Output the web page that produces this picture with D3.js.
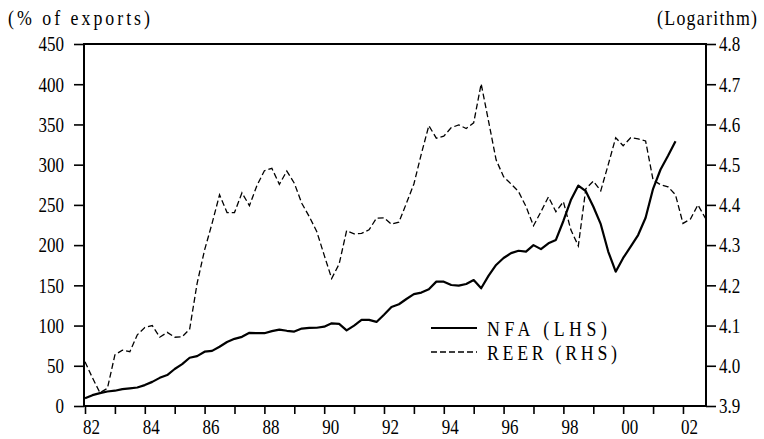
<html>
<head>
  <script src="https://d3js.org/d3.v7.min.js"></script>
  <style>
    body { margin: 0; background: #fff; }
    text { font-family: "Liberation Serif", "Times New Roman", serif; fill: #000; }
    .axis .domain { display: none; }
    .axis line { stroke: #000; stroke-width: 1.6; }
  </style>
</head>
<body>
  <svg width="764" height="439" id="chart"></svg>
  <script>
    // quarterly series, 1982Q1 .. 2002Q4
    const startYear = 1982;
    const nfa = [9.5, 13.5, 16, 18, 19, 21, 22, 23, 26, 30, 35, 38.5,
      46, 52, 60, 62, 67.5, 68.5, 73.7, 79.5, 83.5, 86, 91, 90.5,
      90.5, 93, 95, 93.5, 92.5, 96.3, 97, 97.3, 98.6, 102.8, 102, 94,
      100, 107, 107, 104.5, 113.5, 123, 126.5, 133, 139, 141, 145, 154.6,
      154.6, 150.4, 149.6, 151.7, 156.6, 146.3, 162, 175.3, 184, 190, 193, 192,
      200, 195, 202.3, 206.4, 230, 256, 274, 267, 248, 226, 192, 167,
      184, 198, 212.5, 234, 270, 294, 311, 329, null, null, null, null];
    const reer = [4.010, 3.970, 3.933, 3.944, 4.027, 4.039, 4.035, 4.077, 4.095, 4.100, 4.071, 4.083,
      4.071, 4.072, 4.091, 4.205, 4.288, 4.354, 4.425, 4.381, 4.381, 4.430, 4.398, 4.448,
      4.485, 4.491, 4.451, 4.484, 4.454, 4.404, 4.371, 4.334, 4.275, 4.217, 4.253, 4.336,
      4.328, 4.329, 4.338, 4.367, 4.368, 4.352, 4.357, 4.404, 4.452, 4.527, 4.597, 4.566,
      4.571, 4.592, 4.599, 4.590, 4.604, 4.701, 4.607, 4.512, 4.470, 4.452, 4.433, 4.396,
      4.348, 4.383, 4.420, 4.383, 4.408, 4.338, 4.298, 4.440, 4.459, 4.435, 4.500, 4.567,
      4.547, 4.567, 4.564, 4.559, 4.462, 4.450, 4.445, 4.425, 4.354, 4.365, 4.400, 4.367];
    const xTickYears = [1982, 1983, 1984, 1985, 1986, 1987, 1988, 1989, 1990, 1991, 1992,
      1993, 1994, 1995, 1996, 1997, 1998, 1999, 2000, 2001, 2002];
    const xTickLabels = ["82", "84", "86", "88", "90", "92", "94", "96", "98", "00", "02"];
    const leftTicks = [0, 50, 100, 150, 200, 250, 300, 350, 400, 450];
    const rightTicks = [3.9, 4.0, 4.1, 4.2, 4.3, 4.4, 4.5, 4.6, 4.7, 4.8];
    const seriesNames = ["NFA (LHS)", "REER (RHS)"];

    const svg = d3.select("#chart");
    const frame = { left: 84, right: 706, top: 44, bottom: 406 };
    const sx = 0.85; // the glyphs in the picture are tall and narrow

    const x = d3.scaleLinear().domain([1982, 2002.75]).range([85, 705.4]);
    const yL = d3.scaleLinear().domain([0, 450]).range([frame.bottom, frame.top]);
    const yR = d3.scaleLinear().domain([3.9, 4.8]).range([frame.bottom, frame.top]);
    const t = i => startYear + i / 4;

    // axes
    const leftAxis = svg.append("g").attr("class", "axis")
      .attr("transform", `translate(${frame.left},0)`)
      .call(d3.axisLeft(yL).tickValues(leftTicks).tickSize(10).tickFormat(d3.format("d")));
    leftAxis.selectAll("text")
      .attr("font-size", 20)
      .attr("x", 0).attr("dy", "0.34em")
      .attr("transform", `translate(-20,0) scale(${sx},1)`);

    const rightAxis = svg.append("g").attr("class", "axis")
      .attr("transform", `translate(${frame.right},0)`)
      .call(d3.axisRight(yR).tickValues(rightTicks).tickSize(10).tickFormat(d3.format(".1f")));
    rightAxis.selectAll("text")
      .attr("font-size", 20)
      .attr("x", 0).attr("dy", "0.34em")
      .attr("transform", `translate(13,0) scale(${sx},1)`);

    const bottomAxis = svg.append("g").attr("class", "axis")
      .attr("transform", `translate(0,${frame.bottom})`)
      .call(d3.axisBottom(x).tickValues(xTickYears).tickSize(8)
        .tickFormat(d => d % 2 === 0 ? xTickLabels[(d - 1982) / 2] : ""));
    bottomAxis.selectAll("text")
      .attr("font-size", 20)
      .attr("y", 0).attr("dy", 0)
      .attr("transform", `translate(6,28) scale(${sx},1)`);

    // lines
    const nfaLine = d3.line()
      .defined(d => d != null)
      .x((d, i) => x(t(i)))
      .y(d => yL(d));
    const reerLine = d3.line()
      .x((d, i) => x(t(i)))
      .y(d => yR(d));

    svg.append("path").datum(reer)
      .attr("fill", "none").attr("stroke", "#000")
      .attr("stroke-width", 1.3).attr("stroke-dasharray", "6,3")
      .attr("d", reerLine);
    svg.append("path").datum(nfa)
      .attr("fill", "none").attr("stroke", "#000")
      .attr("stroke-width", 2.2).attr("stroke-linejoin", "round")
      .attr("d", nfaLine);

    // frame
    svg.append("rect")
      .attr("x", frame.left).attr("y", frame.top)
      .attr("width", frame.right - frame.left).attr("height", frame.bottom - frame.top)
      .attr("fill", "none").attr("stroke", "#000").attr("stroke-width", 2);

    // spaced text helper
    function spacedText(str, x0, y0, w, size) {
      svg.append("text")
        .attr("transform", `translate(${x0},${y0}) scale(${sx},1)`)
        .attr("font-size", size)
        .attr("textLength", w / sx)
        .attr("lengthAdjust", "spacing")
        .text(str);
    }

    spacedText("(% of exports)", 8, 25, 142, 21);
    spacedText("(Logarithm)", 657, 25, 100, 21);

    // legend
    const legend = [
      { name: seriesNames[0], y: 328, dash: null, w: 2.2, tw: 120 },
      { name: seriesNames[1], y: 352, dash: "6,3", w: 1.3, tw: 130 }
    ];
    legend.forEach(l => {
      svg.append("line")
        .attr("x1", 431).attr("x2", 477).attr("y1", l.y).attr("y2", l.y)
        .attr("stroke", "#000").attr("stroke-width", l.w)
        .attr("stroke-dasharray", l.dash);
      spacedText(l.name, 487, l.y + 8, l.tw, 21);
    });
  </script>
</body>
</html>
